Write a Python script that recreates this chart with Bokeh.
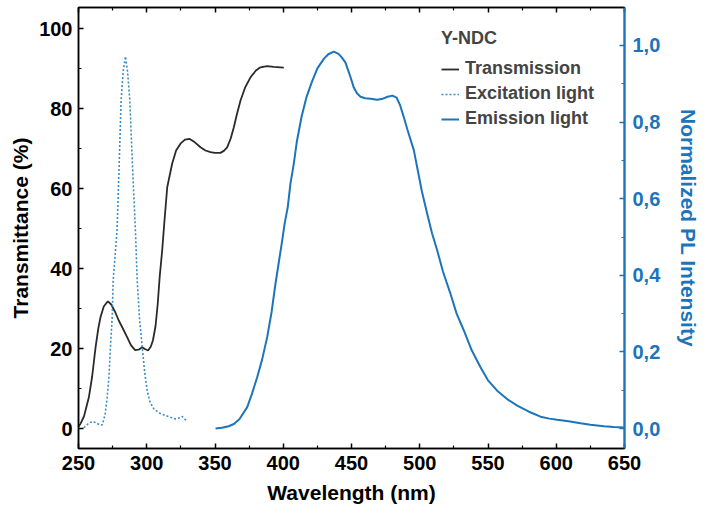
from bokeh.plotting import figure
from bokeh.models import (Range1d, LinearAxis, Legend, LegendItem, FixedTicker,
                          CustomJSTickFormatter)
from bokeh.embed import file_html
from bokeh.resources import INLINE

# ---- data ----
trans_x = [250, 251.5, 254, 257.6, 260, 262.5, 264.5, 266.1, 268.5, 271.5, 274, 277, 279.5,
           282.5, 285.7, 288.5, 291.5, 294, 296.6, 299, 301, 303, 304.5, 306.4, 308, 309.5,
           311.3, 313, 315, 318.6, 321.5, 324.7, 328, 331.5, 335, 339.4, 343, 346.7, 350,
           354, 356.5, 358.9, 361.5, 363.8, 366, 368.7, 372, 376, 380, 383.3, 388.2, 393, 400.4]
trans_y = [0.5, 1.2, 3, 7.8, 13, 20.3, 25, 27.8, 30.5, 31.8, 31, 29, 27,
           25, 22.8, 20.8, 19.6, 19.7, 20.3, 19.8, 19.5, 20.5, 22, 25.5, 31, 38,
           44.5, 52, 60.3, 66.2, 69.5, 71.2, 72.2, 72.4, 71.6, 70.3, 69.5, 69.1, 68.9,
           68.9, 69.4, 70.3, 72.5, 75.3, 78.5, 82, 85.2, 87.8, 89.5, 90.3, 90.6, 90.4, 90.2]

exc_x = [253.9, 255.1, 257.5, 260, 262.5, 265, 267.4, 269.5, 271, 272.3, 273.4, 274.7, 275.4,
         277.1, 278.3, 279.8, 281.2, 282.8, 284.4, 286, 287.6, 289.5, 291.8, 293, 294.8,
         296.7, 298.5, 300.3, 302.5, 305.2, 309, 313.7, 317.5, 321, 323.5, 326, 328, 329.6]
exc_y = [0.2, 0.6, 1.3, 1.75, 1.5, 1.0, 0.9, 3.5, 7.8, 13, 20.3, 28, 37,
         44.5, 50, 66, 82, 89.5, 93, 89, 82, 66, 48.7, 37, 27,
         20.3, 14, 9.5, 6.5, 4.9, 3.9, 3.25, 2.8, 2.4, 2.6, 3, 2.3, 1.8]

em_x = [350.4, 355, 360, 363.8, 368, 373.6, 377, 380.9, 384.5, 388.2, 391.5, 394.3, 397,
        399.2, 401, 403.3, 405.3, 407.7, 410, 413.5, 417, 421, 425, 429.7, 433, 437,
        440.5, 443, 445.6, 449.3, 451.7, 454, 456.6, 460, 464, 468.8, 473, 476.5, 480,
        483, 485.5, 488.3, 491, 495.7, 498.1, 501.5, 505.5, 509, 512.8, 517, 522.5, 527,
        532.3, 538, 544.5, 550, 556.7, 564, 571.4, 580, 588.5, 595, 600.7, 609, 617.8,
        625, 635, 642, 649.5]
em_y = [0.0, 0.002, 0.006, 0.012, 0.025, 0.056, 0.09, 0.134, 0.18, 0.238, 0.305, 0.378, 0.44,
        0.49, 0.535, 0.578, 0.64, 0.691, 0.75, 0.815, 0.865, 0.905, 0.94, 0.965, 0.977, 0.984,
        0.978, 0.968, 0.955, 0.917, 0.89, 0.875, 0.866, 0.862, 0.861, 0.858, 0.861, 0.866, 0.869,
        0.864, 0.845, 0.813, 0.78, 0.726, 0.682, 0.62, 0.56, 0.51, 0.465, 0.41, 0.352, 0.3,
        0.256, 0.205, 0.16, 0.126, 0.099, 0.077, 0.06, 0.044, 0.031, 0.026, 0.023, 0.019, 0.014,
        0.01, 0.006, 0.004, 0.003]

x_ticks = [250, 300, 350, 400, 450, 500, 550, 600, 650]
x_minor = [275, 325, 375, 425, 475, 525, 575, 625]
y_ticks = [0, 20, 40, 60, 80, 100]
y_minor = [10, 30, 50, 70, 90]
pl_ticks = [0.0, 0.2, 0.4, 0.6, 0.8, 1.0]
pl_minor = [0.1, 0.3, 0.5, 0.7, 0.9]

BLUE = "#1c74bb"
BLUE2 = "#3a8cc6"
FONT = "Liberation Sans"

p = figure(width=705, height=513, output_backend="svg", toolbar_location=None,
           x_range=Range1d(250, 650), y_range=Range1d(-5, 105.25),
           min_border_left=78, min_border_right=81, min_border_top=7, min_border_bottom=65)
p.extra_y_ranges = {"pl": Range1d(-0.052, 1.099)}
p.grid.visible = False
p.outline_line_color = "black"
p.outline_line_width = 1.5
p.background_fill_color = "white"
p.border_fill_color = "white"

r_t = p.line(trans_x, trans_y, line_color="#2a2a2a", line_width=1.8)
r_x = p.line(exc_x, exc_y, line_color=BLUE2, line_width=1.6, line_dash="2 2")
r_e = p.line(em_x, em_y, line_color=BLUE, line_width=2, y_range_name="pl")

def style(ax, color="black"):
    ax.axis_line_color = color
    ax.axis_line_width = 1.5
    ax.major_tick_line_color = color
    ax.minor_tick_line_color = color
    ax.major_tick_line_width = 1.5
    ax.minor_tick_line_width = 1.2
    ax.major_tick_in = 5
    ax.major_tick_out = 0
    ax.minor_tick_in = 3
    ax.minor_tick_out = 0
    ax.major_label_text_font = FONT
    ax.major_label_text_font_style = "bold"
    ax.major_label_text_font_size = "20px"
    ax.major_label_text_color = color
    ax.axis_label_text_font = FONT
    ax.axis_label_text_font_style = "bold"
    ax.axis_label_text_font_size = "21px"
    ax.axis_label_text_color = color

xa = p.xaxis[0]
xa.ticker = FixedTicker(ticks=x_ticks, minor_ticks=x_minor)
xa.axis_label = "Wavelength (nm)"
style(xa)
xa.major_label_standoff = 7
xa.axis_label_standoff = 8

ya = p.yaxis[0]
ya.ticker = FixedTicker(ticks=y_ticks, minor_ticks=y_minor)
ya.axis_label = "Transmittance (%)"
style(ya)
ya.major_label_standoff = 6
ya.axis_label_standoff = 4

top = LinearAxis(ticker=FixedTicker(ticks=x_ticks, minor_ticks=x_minor))
style(top)
top.major_label_text_font_size = "1px"
top.major_label_text_alpha = 0
top.major_label_standoff = 0
p.add_layout(top, "above")

ra = LinearAxis(y_range_name="pl",
                ticker=FixedTicker(ticks=pl_ticks, minor_ticks=pl_minor),
                formatter=CustomJSTickFormatter(code="return tick.toFixed(1).replace('.', ',');"),
                axis_label="Normalized PL Intensity")
style(ra, BLUE)
ra.axis_line_width = 2
ra.major_label_standoff = 8
ra.axis_label_standoff = 14
p.add_layout(ra, "right")

legend = Legend(items=[LegendItem(label="Transmission", renderers=[r_t]),
                       LegendItem(label="Excitation light", renderers=[r_x]),
                       LegendItem(label="Emission light", renderers=[r_e])],
                location=(363, 319), title="Y-NDC",
                title_text_font=FONT, title_text_font_size="18px",
                title_text_font_style="bold", title_standoff=9,
                label_text_font=FONT, label_text_font_size="18px",
                label_text_font_style="bold",
                glyph_width=18, glyph_height=20, label_height=20, spacing=4,
                padding=0, margin=0, label_standoff=6,
                border_line_color=None, background_fill_alpha=0)
p.add_layout(legend)

open("out.html", "w").write(file_html(p, INLINE))
